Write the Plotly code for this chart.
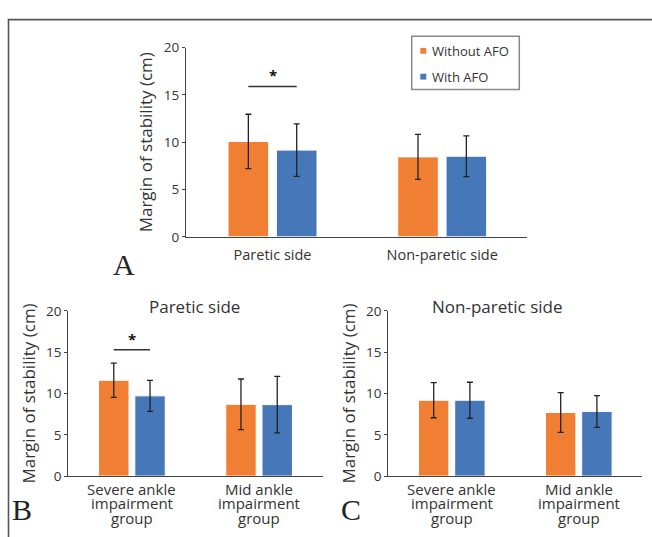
import plotly.graph_objects as go

# ---------------- data ----------------
series_names = ["Without AFO", "With AFO"]
series_colors = ["#F07F34", "#4677B8"]

cats_A = ["Paretic side", "Non-paretic side"]
a_without = [10.08, 8.45]
a_without_sd = [2.88, 2.38]
a_with = [9.17, 8.52]
a_with_sd = [2.78, 2.15]

cat_lines_BC = [["Severe ankle", "impairment", "group"], ["Mid ankle", "impairment", "group"]]
cats_BC = [" ".join(l) for l in cat_lines_BC]
b_without = [11.60, 8.69]
b_without_sd = [2.07, 3.06]
b_with = [9.71, 8.65]
b_with_sd = [1.87, 3.41]
c_without = [9.18, 7.70]
c_without_sd = [2.12, 2.40]
c_with = [9.18, 7.82]
c_with_sd = [2.18, 1.93]

y_ticks = [0, 5, 10, 15, 20]
y_title = "Margin of stability (cm)"
title_B = "Paretic side"
title_C = "Non-paretic side"

# significance brackets: (panel, category index, line y, star y)
sig_marks = [("A", 0, 15.9, 17.1), ("B", 0, 15.3, 16.6)]

# ---------------- layout helpers ----------------
W, H = 652, 537
BARGAP = 0.43
BARGROUPGAP = 0.16
FONT = "Open Sans"
TXT = "#333333"
AXC = "#444444"


def px_x(p):
    return p / W


def px_y(p):
    return 1 - p / H


fig = go.Figure()

panels = {
    "A": dict(xa="x", ya="y", cats=cats_A, data=[(a_without, a_without_sd), (a_with, a_with_sd)]),
    "B": dict(xa="x2", ya="y2", cats=cats_BC, data=[(b_without, b_without_sd), (b_with, b_with_sd)]),
    "C": dict(xa="x3", ya="y3", cats=cats_BC, data=[(c_without, c_without_sd), (c_with, c_with_sd)]),
}

for key, p in panels.items():
    for i, (vals, sds) in enumerate(p["data"]):
        fig.add_trace(go.Bar(
            x=p["cats"], y=vals, name=series_names[i],
            marker=dict(color=series_colors[i], line=dict(color="white", width=1)),
            error_y=dict(type="data", array=sds, color="#222222", thickness=1.3, width=3),
            xaxis=p["xa"], yaxis=p["ya"], showlegend=False, offsetgroup=str(i),
        ))

yaxis_common = dict(
    range=[0, 20], tickvals=y_ticks, showgrid=False, zeroline=False,
    showline=True, linecolor=AXC, linewidth=1.3, ticks="outside", ticklen=3,
    tickcolor=AXC, tickfont=dict(family=FONT, size=13.5, color=TXT),
    title=dict(text=y_title, font=dict(family=FONT, size=17, color=TXT), standoff=6),
)
xaxis_common = dict(
    type="category", range=[-0.5, 1.5], showgrid=False, zeroline=False,
    showline=True, linecolor=AXC, linewidth=1.3,
)

fig.update_layout(
    width=W, height=H, margin=dict(l=0, r=0, t=0, b=0),
    paper_bgcolor="white", plot_bgcolor="white",
    barmode="group", bargap=BARGAP, bargroupgap=BARGROUPGAP,
    font=dict(family=FONT, color=TXT), showlegend=False,
    xaxis=dict(xaxis_common, domain=[px_x(186), px_x(527)], range=[-0.51, 1.5], anchor="y",
               ticks="outside", ticklen=5, tickcolor="rgba(0,0,0,0)",
               tickfont=dict(family=FONT, size=14.5, color=TXT)),
    yaxis=dict(yaxis_common, domain=[px_y(235.7), px_y(40)], anchor="x"),
    xaxis2=dict(xaxis_common, domain=[px_x(68.3), px_x(322.7)], anchor="y2", showticklabels=False, ticks=""),
    yaxis2=dict(yaxis_common, domain=[px_y(483.3), px_y(312.3)], anchor="x2"),
    xaxis3=dict(xaxis_common, domain=[px_x(388.3), px_x(642.3)], anchor="y3", showticklabels=False, ticks=""),
    yaxis3=dict(yaxis_common, domain=[px_y(483.3), px_y(312.3)], anchor="x3"),
)

shapes = []
annotations = []

# outer frame
shapes.append(dict(type="rect", xref="paper", yref="paper",
                   x0=px_x(8.5), x1=1.05, y0=-0.05, y1=px_y(11),
                   line=dict(color="#555555", width=1.6), layer="below"))

# legend box (drawn by hand to match the compact original)
lg_x0, lg_x1, lg_y0, lg_y1 = 411.7, 519.3, 28.3, 83.3
lg_rows = [43.3, 70.0]
shapes.append(dict(type="rect", xref="paper", yref="paper",
                   x0=px_x(lg_x0), x1=px_x(lg_x1), y0=px_y(lg_y1), y1=px_y(lg_y0),
                   line=dict(color="#888888", width=1.5), fillcolor="white"))
for i, nm in enumerate(series_names):
    cy = lg_rows[i]
    shapes.append(dict(type="rect", xref="paper", yref="paper",
                       x0=px_x(420.3), x1=px_x(426.3), y0=px_y(cy + 3), y1=px_y(cy - 3),
                       line=dict(width=0), fillcolor=series_colors[i]))
    annotations.append(dict(xref="paper", yref="paper", x=px_x(430), y=px_y(cy), text=nm,
                            showarrow=False, xanchor="left", yanchor="middle",
                            font=dict(family=FONT, size=13, color=TXT)))

# significance brackets
half = (1 - BARGAP) / 4
for key, ci, ly, sy in sig_marks:
    xa, ya = panels[key]["xa"], panels[key]["ya"]
    shapes.append(dict(type="line", xref=xa, yref=ya, x0=ci - half, x1=ci + half,
                       y0=ly, y1=ly, line=dict(color="#333333", width=1.5)))
    annotations.append(dict(xref=xa, yref=ya, x=ci, y=sy, text="<b>*</b>", showarrow=False,
                            font=dict(family=FONT, size=15, color="#111111")))

# multi-line category labels for B and C
line_ys = [496.7, 511.5, 527.0]
for key in ["B", "C"]:
    xa = panels[key]["xa"]
    for ci, lines in enumerate(cat_lines_BC):
        for li, txt in enumerate(lines):
            annotations.append(dict(xref=xa, yref="paper", x=panels[key]["cats"][ci], y=px_y(line_ys[li]),
                                    text=txt, showarrow=False, xanchor="center", yanchor="middle",
                                    font=dict(family=FONT, size=15, color=TXT)))

# panel titles
annotations.append(dict(xref="paper", yref="paper", x=px_x(194), y=px_y(308.3), text=title_B,
                        showarrow=False, xanchor="center", yanchor="middle",
                        font=dict(family=FONT, size=17, color=TXT)))
annotations.append(dict(xref="paper", yref="paper", x=px_x(497.5), y=px_y(308.3), text=title_C,
                        showarrow=False, xanchor="center", yanchor="middle",
                        font=dict(family=FONT, size=17, color=TXT)))

# panel letters
for letter, lx, ly, anc in [("A", 124, 264, "middle"), ("B", 22, 537, "bottom"), ("C", 351, 537, "bottom")]:
    annotations.append(dict(xref="paper", yref="paper", x=px_x(lx), y=px_y(ly), text=letter,
                            showarrow=False, xanchor="center", yanchor=anc,
                            font=dict(family="Liberation Serif", size=30, color="#222222")))

fig.update_layout(shapes=shapes, annotations=annotations)

fig.write_html("out.html", config={"displayModeBar": False},
               post_script="document.body.style.margin='0';")
